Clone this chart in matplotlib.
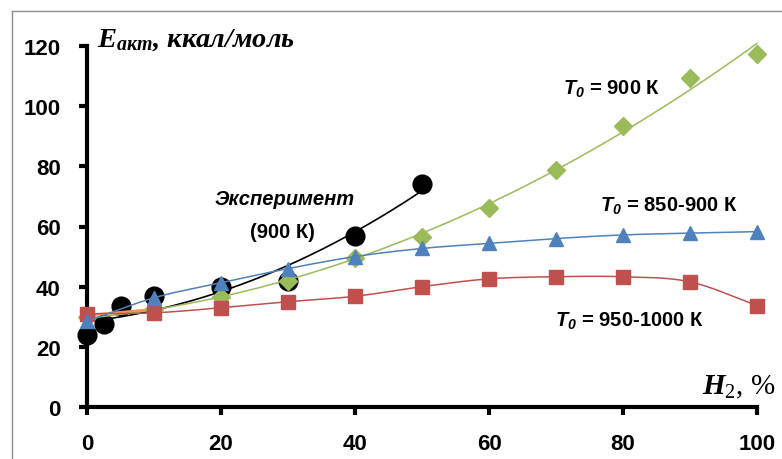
import numpy as np
import matplotlib
matplotlib.use("Agg")
import matplotlib.pyplot as plt
from matplotlib.lines import Line2D

plt.rcParams['mathtext.fontset'] = 'custom'
plt.rcParams['mathtext.it'] = 'Liberation Serif:italic:bold'
plt.rcParams['mathtext.sf'] = 'Liberation Sans:italic:bold'
plt.rcParams['mathtext.rm'] = 'Liberation Serif'

# experiment, 900 K
exp_x = [0, 2.5, 5, 10, 20, 30, 40, 50]
exp_y = [24, 27.7, 33.5, 37, 40, 42, 57, 74]

# calculation, T0 = 900 K
t900_x = [0, 10, 20, 30, 40, 50, 60, 70, 80, 90, 100]
t900_y = [30, 32.5, 36.5, 42, 49.5, 56.5, 66.3, 78.8, 93.3, 109.3, 117.3]

# calculation, T0 = 850-900 K
t850_x = [0, 10, 20, 30, 40, 50, 60, 70, 80, 90, 100]
t850_y = [28.5, 36.3, 41.3, 46, 50, 52.7, 54.4, 56, 57.2, 57.8, 58.3]

# calculation, T0 = 950-1000 K
t950_x = [0, 10, 20, 30, 40, 50, 60, 70, 80, 90, 100]
t950_y = [31, 31.3, 33, 35, 36.8, 40, 42.6, 43.3, 43.3, 41.6, 33.7]

# short extra curve near the origin
extra_x = [0, 10]
extra_y = [30.5, 32.5]

x_ticks = [0, 20, 40, 60, 80, 100]
y_ticks = [0, 20, 40, 60, 80, 100, 120]

GREEN = '#9BBB59'
BLUE = '#4F81BD'
RED = '#C0504D'
ORANGE = '#F79646'


def smooth(x, y, n=20):
    # Catmull-Rom curve through the points
    x = np.asarray(x, float)
    y = np.asarray(y, float)
    px = np.concatenate([[2 * x[0] - x[1]], x, [2 * x[-1] - x[-2]]])
    py = np.concatenate([[2 * y[0] - y[1]], y, [2 * y[-1] - y[-2]]])
    xs, ys = [], []
    t = np.linspace(0, 1, n, endpoint=False)
    for i in range(1, len(px) - 2):
        for p, out in ((px, xs), (py, ys)):
            p0, p1, p2, p3 = p[i - 1], p[i], p[i + 1], p[i + 2]
            out.extend(0.5 * (2 * p1 + (-p0 + p2) * t
                              + (2 * p0 - 5 * p1 + 4 * p2 - p3) * t ** 2
                              + (-p0 + 3 * p1 - 3 * p2 + p3) * t ** 3))
    xs.append(x[-1])
    ys.append(y[-1])
    return np.array(xs), np.array(ys)


fig = plt.figure(figsize=(7.82, 4.6), dpi=100)
ax = fig.add_axes([87 / 782, 1 - 408 / 460, 670 / 782, 361 / 460])

# trend lines
xe = np.linspace(0, 50, 200)
ax.plot(xe, np.polyval(np.polyfit(exp_x, exp_y, 2), xe), color='black', lw=1.2, zorder=2)
xg = np.linspace(0, 100, 300)
ax.plot(xg, np.polyval(np.polyfit(t900_x, t900_y, 2), xg), color=GREEN, lw=1.1,
        zorder=3, clip_on=False)

ax.plot(exp_x, exp_y, 'o', color='black', ms=13.5, zorder=2, clip_on=False)
ax.plot(t900_x, t900_y, 'D', color=GREEN, ms=9, zorder=4, clip_on=False)

sx, sy = smooth(extra_x, extra_y)
ax.plot(sx, sy, color=ORANGE, lw=1.8, zorder=3)

sx, sy = smooth(t950_x, t950_y)
ax.plot(sx, sy, color=RED, lw=1.1, zorder=5)
ax.plot(t950_x, t950_y, 's', color=RED, ms=10, zorder=5, clip_on=False)

sx, sy = smooth(t850_x, t850_y)
ax.plot(sx, sy, color=BLUE, lw=1.1, zorder=6)
ax.plot(t850_x, t850_y, '^', color=BLUE, ms=10, zorder=6, clip_on=False)

ax.set_xlim(0, 100)
ax.set_ylim(0, 120)
ax.set_xticks(x_ticks)
ax.set_yticks(y_ticks)
for s in ['top', 'right']:
    ax.spines[s].set_visible(False)
for s in ['left', 'bottom']:
    ax.spines[s].set_linewidth(3)
ax.tick_params(length=6, width=3, direction='out', pad=13)
for lab in ax.get_xticklabels() + ax.get_yticklabels():
    lab.set_fontfamily('Liberation Sans')
    lab.set_fontweight('bold')
    lab.set_fontsize(16)

tfont = dict(family='Liberation Sans', weight='bold', fontsize=14.5, va='center')
ax.text(71.0, 106, r'$\mathsf{T_0}$ = 900 К', ha='left', **tfont)
ax.text(76.6, 67, r'$\mathsf{T_0}$ = 850-900 К', ha='left', **tfont)
ax.text(69.9, 28.7, r'$\mathsf{T_0}$ = 950-1000 К', ha='left', **tfont)
ax.text(29.5, 69.3, 'Эксперимент', ha='center', style='italic', **tfont)
ax.text(29.2, 58.3, '(900 К)', ha='center', **tfont)

fig.text(97 / 782, 1 - 40 / 460, r'$\mathit{E_{акт}}$, ккал/моль', family='Liberation Serif',
         style='italic', weight='bold', fontsize=20.5, ha='left', va='center')
fig.text(776 / 782, 1 - 387 / 460, r'$\mathit{H_2}$, %', family='Liberation Serif',
         fontsize=21, ha='right', va='center')

# frame lines on the left and top
fig.add_artist(Line2D([11.5 / 782, 11.5 / 782], [0, 1 - 11.5 / 460], color='#8c8c8c', lw=1))
fig.add_artist(Line2D([11.5 / 782, 1], [1 - 11.5 / 460, 1 - 11.5 / 460], color='#8c8c8c', lw=1))

fig.savefig('out.png', dpi=100)
